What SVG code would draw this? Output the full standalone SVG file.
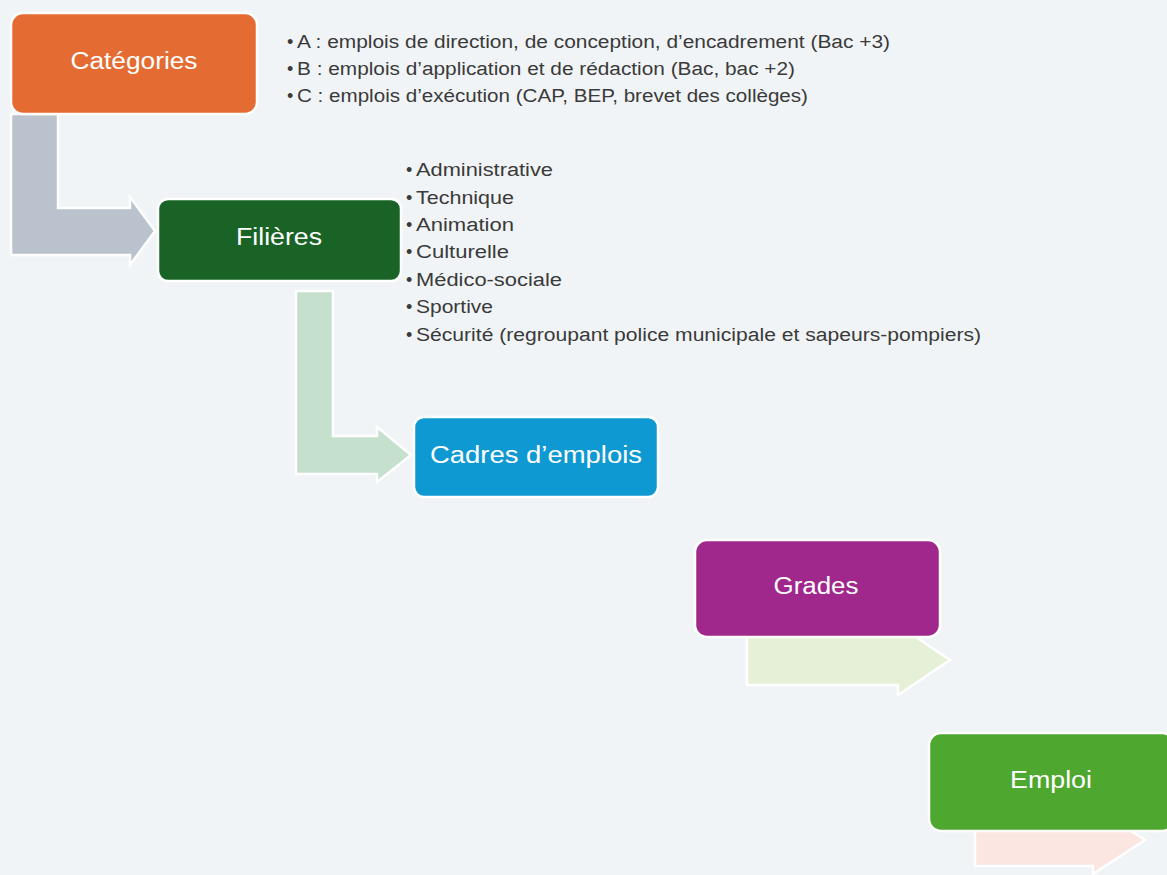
<svg xmlns="http://www.w3.org/2000/svg" width="1167" height="875" viewBox="0 0 1167 875">
<style>
.box{stroke:#ffffff;stroke-width:2.5}
.arr{stroke:#ffffff;stroke-width:2.5;stroke-linejoin:miter}
.lbl{font-family:"Liberation Sans",Arial,sans-serif;font-size:23px;fill:#ffffff;text-anchor:middle}
.bul{font-family:"Liberation Sans",Arial,sans-serif;font-size:18px;fill:#3a3a3a}
</style>
<rect width="1167" height="875" fill="#f1f4f6"/>
<g id="connectors">
<path class="arr" fill="#b9c2cd" d="M11,114 L58,114 L58,208 L130,208 L130,197 L155,231 L130,265 L130,255 L11,255 Z"/>
<path class="arr" fill="#c5e0cd" d="M296,291 L333,291 L333,436 L377,436 L377,427 L411,455 L377,482 L377,474 L296,474 Z"/>
<path class="arr" fill="#e6f0d6" d="M747,636 L898,636 L898,625 L950,660 L898,695 L898,685 L747,685 Z"/>
<path class="arr" fill="#fbe6e2" d="M975,813 L1093,813 L1093,806 L1145,840 L1093,874 L1093,866 L975,866 Z"/>
</g>
<g id="categories">
<rect class="box" x="11" y="13" width="246" height="101" rx="12" fill="#e46c32"/>
<text class="lbl" x="134" y="69" textLength="127" lengthAdjust="spacingAndGlyphs">Catégories</text>
</g>
<g id="filieres">
<rect class="box" x="158" y="199" width="243" height="82" rx="10" fill="#196326"/>
<text class="lbl" x="279" y="245" textLength="86" lengthAdjust="spacingAndGlyphs">Filières</text>
</g>
<g id="cadres">
<rect class="box" x="414" y="417" width="244" height="80" rx="10" fill="#0f99d2"/>
<text class="lbl" x="536" y="463" textLength="212" lengthAdjust="spacingAndGlyphs">Cadres d’emplois</text>
</g>
<g id="grades">
<rect class="box" x="695" y="540" width="245" height="97" rx="12" fill="#a0288d"/>
<text class="lbl" x="816" y="594" textLength="85" lengthAdjust="spacingAndGlyphs">Grades</text>
</g>
<g id="emploi">
<rect class="box" x="929" y="733" width="245" height="98" rx="12" fill="#4ea72e"/>
<text class="lbl" x="1051" y="788" textLength="82" lengthAdjust="spacingAndGlyphs">Emploi</text>
</g>
<g id="categories-list" class="bul">
<text x="287" y="48">•</text><text x="297" y="48" textLength="593" lengthAdjust="spacingAndGlyphs">A : emplois de direction, de conception, d’encadrement (Bac +3)</text>
<text x="287" y="75">•</text><text x="297" y="75" textLength="498" lengthAdjust="spacingAndGlyphs">B : emplois d’application et de rédaction (Bac, bac +2)</text>
<text x="287" y="102">•</text><text x="297" y="102" textLength="511" lengthAdjust="spacingAndGlyphs">C : emplois d’exécution (CAP, BEP, brevet des collèges)</text>
</g>
<g id="filieres-list" class="bul">
<text x="406" y="176">•</text><text x="416" y="176" textLength="137" lengthAdjust="spacingAndGlyphs">Administrative</text>
<text x="406" y="204">•</text><text x="416" y="204" textLength="98" lengthAdjust="spacingAndGlyphs">Technique</text>
<text x="406" y="231">•</text><text x="416" y="231" textLength="98" lengthAdjust="spacingAndGlyphs">Animation</text>
<text x="406" y="258">•</text><text x="416" y="258" textLength="93" lengthAdjust="spacingAndGlyphs">Culturelle</text>
<text x="406" y="286">•</text><text x="416" y="286" textLength="146" lengthAdjust="spacingAndGlyphs">Médico-sociale</text>
<text x="406" y="313">•</text><text x="416" y="313" textLength="77" lengthAdjust="spacingAndGlyphs">Sportive</text>
<text x="406" y="341">•</text><text x="416" y="341" textLength="565" lengthAdjust="spacingAndGlyphs">Sécurité (regroupant police municipale et sapeurs-pompiers)</text>
</g>
</svg>
